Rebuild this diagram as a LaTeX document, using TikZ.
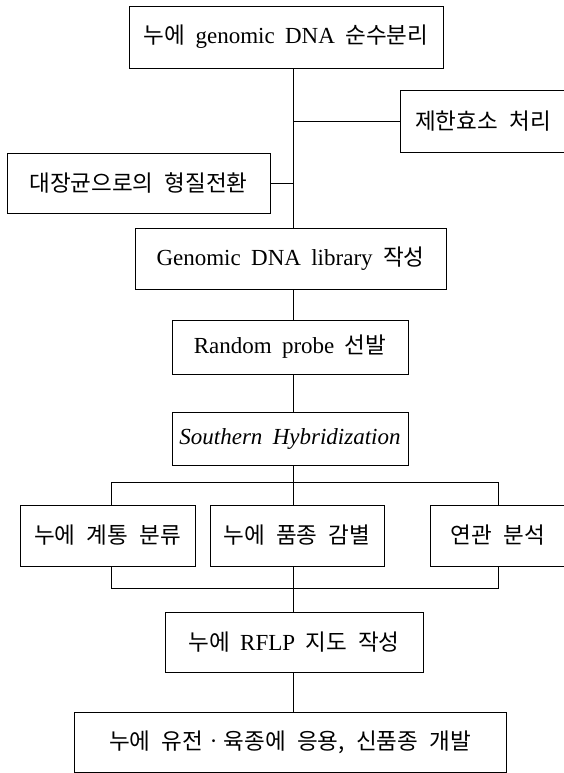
\documentclass[tikz,border=0pt]{standalone}
\usepackage{fontspec}
\setmainfont{Liberation Serif}[WordSpace=1.8]
\newfontfamily\kor{Noto Sans CJK KR}[Scale=0.98,WordSpace=2.2]

\begin{document}
\begin{tikzpicture}[x=1pt,y=-1pt,
    box/.style={draw,line width=0.9pt,inner sep=0pt,
        font=\fontsize{23}{27}\selectfont},
    link/.style={line width=0.9pt}
]
\useasboundingbox (0,0) rectangle (564,773);
\clip (0,0) rectangle (564,773);

% =========================
% guide lines
% =========================
\coordinate (trunk) at (293,0);
\coordinate (busU) at (0,482);
\coordinate (busD) at (0,588);

% =========================
% DNA preparation
% =========================
\node[box,minimum width=314,minimum height=62] (top) at (286,37)
    {{\kor 누에} genomic DNA {\kor 순수분리}};
\node[box,minimum width=166,minimum height=62] (enzyme) at (483,121)
    {\kor 제한효소 처리};
\node[box,minimum width=263,minimum height=60] (transf) at (138.5,183)
    {\kor 대장균으로의 형질전환};
\node[box,minimum width=311,minimum height=61] (library) at (290.5,258.5)
    {Genomic DNA library {\kor 작성}};
\node[box,minimum width=236,minimum height=54] (probe) at (290,347)
    {Random probe {\kor 선발}};
\node[box,minimum width=236,minimum height=53] (southern) at (290,438.5)
    {\itshape Southern Hybridization};

% =========================
% analyses
% =========================
\node[box,minimum width=175,minimum height=61] (strain) at (107.5,535.5)
    {\kor 누에 계통 분류};
\node[box,minimum width=174,minimum height=61] (breed) at (297,535.5)
    {\kor 누에 품종 감별};
\node[box,minimum width=136,minimum height=61] (linkage) at (498,535.5)
    {\kor 연관 분석};

% =========================
% map and use
% =========================
\node[box,minimum width=258,minimum height=60] (rflp) at (294,642)
    {{\kor 누에} RFLP {\kor 지도 작성}};
\node[box,minimum width=432,minimum height=60] (apply) at (290,742)
    {\kor 누에 유전ㆍ육종에 응용, 신품종 개발};

% connectors
\draw[link] (top.south -| trunk) -- (library.north -| trunk);
\draw[link] (enzyme.west) -- (enzyme.west -| trunk);
\draw[link] (transf.east) -- (transf.east -| trunk);
\draw[link] (library.south -| trunk) -- (probe.north -| trunk);
\draw[link] (probe.south -| trunk) -- (southern.north -| trunk);
\draw[link] (southern.south -| trunk) -- (breed.north -| trunk);
\draw[link] ([xshift=4pt]strain.north) -- ([xshift=4pt]strain.north |- busU)
    -- (linkage.north |- busU) -- (linkage.north);
\draw[link] ([xshift=4pt]strain.south) -- ([xshift=4pt]strain.south |- busD)
    -- (linkage.south |- busD) -- (linkage.south);
\draw[link] (breed.south -| trunk) -- (rflp.north -| trunk);
\draw[link] (rflp.south -| trunk) -- (apply.north -| trunk);

\end{tikzpicture}
\end{document}
